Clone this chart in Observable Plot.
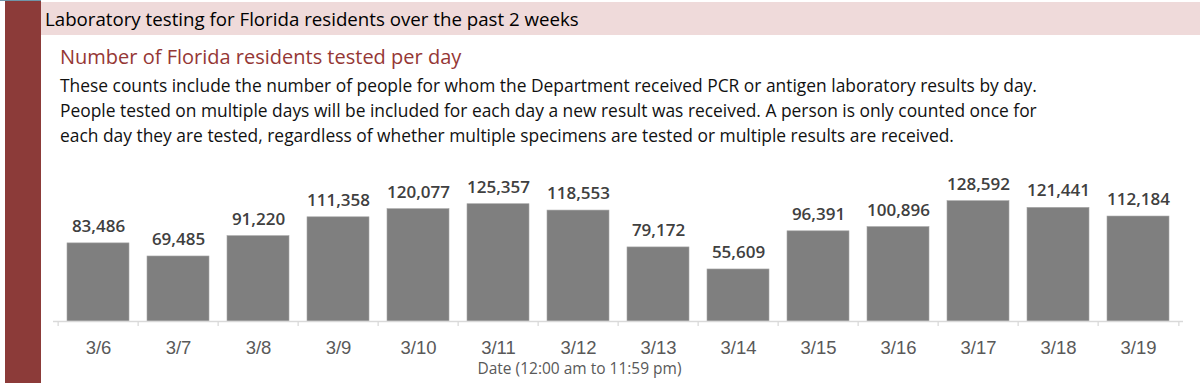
<!DOCTYPE html>
<html>
<head>
<meta charset="utf-8">
<script src="https://cdn.jsdelivr.net/npm/d3@7"></script>
<script src="https://cdn.jsdelivr.net/npm/@observablehq/plot@0.6"></script>
<style>
  html, body { margin: 0; padding: 0; background: #fff; }
  body { width: 1200px; height: 383px; position: relative; overflow: hidden; font-family: "Open Sans", "Liberation Sans", Arial, sans-serif; }
  #redbar { position: absolute; left: 5px; top: 0; width: 36px; height: 383px; background: #8C3B39; }
  #topline { position: absolute; left: 0; top: 0; width: 41px; height: 1px; background: #6f95a8; }
  #band { position: absolute; left: 41px; top: 2px; width: 1159px; height: 33px; background: #EFDADA; }
  #title { position: absolute; left: 45px; top: 2px; height: 33px; line-height: 33px; font-size: 18.7px; color: #000; }
  #subtitle { position: absolute; left: 60px; top: 44px; font-size: 20px; line-height: 26px; color: #953735; }
  #desc { position: absolute; left: 60px; top: 73px; font-size: 17.4px; line-height: 25px; color: #111; }
  #chart { position: absolute; left: 0; top: 150px; }
</style>
</head>
<body>
<div id="redbar"></div>
<div id="topline"></div>
<div id="band"></div>
<div id="title">Laboratory testing for Florida residents over the past 2 weeks</div>
<div id="subtitle">Number of Florida residents tested per day</div>
<div id="desc">These counts include the number of people for whom the Department received PCR or antigen laboratory results by day.<br>People tested on multiple days will be included for each day a new result was received. A person is only counted once for<br>each day they are tested, regardless of whether multiple specimens are tested or multiple results are received.</div>
<div id="chart"></div>
<script>
const dates = ["3/6","3/7","3/8","3/9","3/10","3/11","3/12","3/13","3/14","3/15","3/16","3/17","3/18","3/19"];
const tested = [83486,69485,91220,111358,120077,125357,118553,79172,55609,96391,100896,128592,121441,112184];
const axisTitle = "Date (12:00 am to 11:59 pm)";

const data = dates.map((d, i) => ({date: d, value: tested[i]}));

const W = 1200, H = 233, ML = 53, MR = 17, MT = 40, MB = 62;
const step = (W - ML - MR) / dates.length;

const chart = Plot.plot({
  width: W,
  height: H,
  marginLeft: ML,
  marginRight: MR,
  marginTop: MT,
  marginBottom: MB,
  style: {fontFamily: "'Open Sans', 'Liberation Sans', Arial, sans-serif", background: "transparent", overflow: "visible"},
  x: {type: "band", domain: dates, paddingInner: 0.23, paddingOuter: 0.115, label: null},
  y: {domain: [0, 140000], axis: null},
  marks: [
    Plot.barY(data, {x: "date", y: "value", fill: "#7F7F7F", stroke: "#a6a6a6", strokeWidth: 0.6}),
    Plot.ruleY([0], {stroke: "#D9D9D9", strokeWidth: 1.3}),
    Plot.ruleX(data, {x: "date", y1: 0, y2: 0, insetBottom: -5, dx: -step / 2, stroke: "#D9D9D9", strokeWidth: 1.3}),
    Plot.ruleX(data.slice(-1), {x: "date", y1: 0, y2: 0, insetBottom: -5, dx: step / 2, stroke: "#D9D9D9", strokeWidth: 1.3}),
    Plot.text(data, {x: "date", y: "value", text: d => d3.format(",")(d.value), dy: -17, fontSize: 17, fontWeight: 600, fill: "#404040"}),
    Plot.axisX({tickSize: 0, tickPadding: 19, fontSize: 18.5, fontFamily: "'Liberation Sans', Arial, sans-serif", fill: "#595959", label: null}),
    Plot.text([axisTitle], {frameAnchor: "bottom", dy: 52, dx: -39, fontSize: 15.5, fill: "#595959"})
  ]
});
document.getElementById("chart").appendChild(chart);
</script>
</body>
</html>
